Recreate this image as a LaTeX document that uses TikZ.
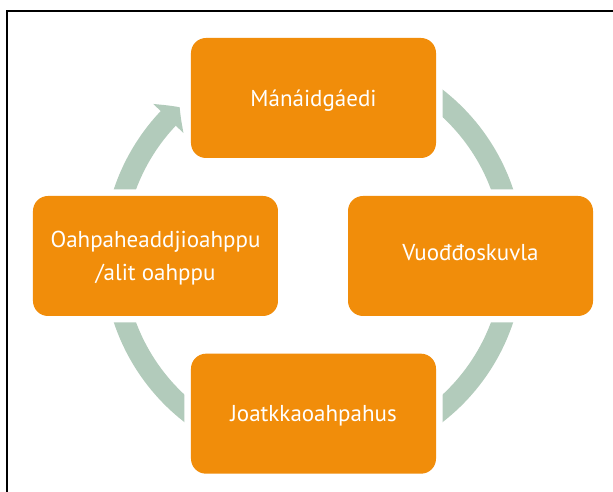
\documentclass[tikz,border=0pt]{standalone}
\usepackage{fontspec}
\setmainfont{PT Sans}
\usetikzlibrary{arrows.meta,bending,calc}
\definecolor{boxorange}{RGB}{241,141,10}
\definecolor{arcgreen}{RGB}{178,203,187}
\pgfdeclarelayer{background}
\pgfsetlayers{background,main}
\begin{document}
\begin{tikzpicture}[x=1pt,y=1pt,
  stage/.style={rectangle, rounded corners=15pt, fill=boxorange,
    minimum width=245pt, minimum height=120pt, inner sep=0pt,
    text=white, font=\fontsize{23}{33.7}\selectfont,
    preaction={draw=white, line width=13pt}},
  cyclearc/.style={draw=arcgreen, line width=21pt}]
\useasboundingbox (-313,-236) rectangle (300,256);
\draw[line width=2pt] (-306,-236) -- (-306,245) -- (300,245);
\node[stage, text height=17.4pt, text depth=0pt] (ma) at (0.5,158) {Mánáidgáedi};
\node[stage, text height=9.4pt, text depth=0pt] (vu) at (157.5,0) {Vuođđoskuvla};
\node[stage, text height=16pt, text depth=0pt] (jo) at (0.5,-157.7) {Joatkkaoahpahus};
\node[stage, align=center, text height=50pt, text depth=0pt] (oa) at (-157.5,0) {Oahpaheaddjioahppu\\/alit oahppu};
\coordinate (ctr) at ($(ma)!0.5!(jo)$);
\begin{pgfonlayer}{background}
\draw[cyclearc] ([shift={(60:200)}]ctr) arc[start angle=60, end angle=10, radius=200];
\draw[cyclearc] ([shift={(-10:200)}]ctr) arc[start angle=-10, end angle=-60, radius=200];
\draw[cyclearc] ([shift={(-120:200)}]ctr) arc[start angle=-120, end angle=-170, radius=200];
\draw[cyclearc, -{Triangle[length=16pt, width=41pt, bend]}] ([shift={(170:200)}]ctr) arc[start angle=170, end angle=132, radius=200];
\end{pgfonlayer}
\end{tikzpicture}
\end{document}
